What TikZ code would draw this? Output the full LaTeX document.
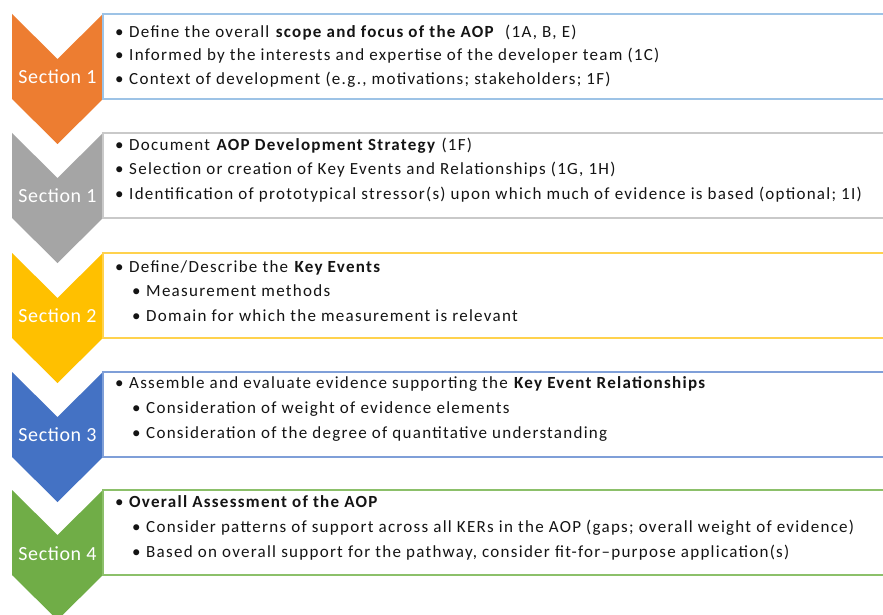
\documentclass[tikz,border=0pt]{standalone}
\usepackage{fontspec}
\setmainfont{Carlito}
\newfontfamily\bodyfont[LetterSpace=7.5]{Carlito}
\newfontfamily\secfont[LetterSpace=3]{Carlito}
\definecolor{cOrange}{HTML}{ED7D31}
\definecolor{cGray}{HTML}{A5A5A5}
\definecolor{cYellow}{HTML}{FFC000}
\definecolor{cBlue}{HTML}{4472C4}
\definecolor{cGreen}{HTML}{70AD47}
\definecolor{bOrange}{HTML}{9DC3E6}
\definecolor{bGray}{HTML}{C9C9C9}
\definecolor{bYellow}{HTML}{FFD24D}
\definecolor{bBlue}{HTML}{7F9FD8}
\definecolor{bGreen}{HTML}{8CC06A}
\definecolor{txt}{HTML}{141414}
\tikzset{
  secbox/.style={fill=white, line width=1.6pt},
  seclabel/.style={text=white, font=\secfont\fontsize{20}{24}\selectfont, inner sep=0pt},
  line/.style={anchor=mid west, inner sep=0pt, text=txt, font=\bodyfont\fontsize{17}{20}\selectfont},
}
\newcommand{\bl}{\makebox[14pt][l]{•}}
\newcommand{\chev}[3]{%
  \fill[#2] (12,#1) -- (57.5,#1+45) -- (103,#1) -- (103,#1+85) -- (57.5,#1+130) -- (12,#1+85) -- cycle;
  \draw[secbox, draw=#3] (103,#1) rectangle (895,#1+85);
}
\begin{document}
\begin{tikzpicture}[x=1pt,y=-1pt]
\useasboundingbox (0,0) rectangle (883,615);
\clip (0,0) rectangle (883,615);
\fill[white] (0,0) rectangle (883,615);
\chev{14}{cOrange}{bOrange}
\chev{133}{cGray}{bGray}
\chev{253}{cYellow}{bYellow}
\chev{372}{cBlue}{bBlue}
\chev{490}{cGreen}{bGreen}
\node[seclabel] (s1) at (57.5,77) {Section 1};
\node[seclabel] (s2) at (57.5,196) {Section 1};
\node[seclabel] (s3) at (57.5,316) {Section 2};
\node[seclabel] (s4) at (57.5,435) {Section 3};
\node[seclabel] (s5) at (57.5,554) {Section 4};
% box 1
\node[line] (a1) at (115,35) {\bl Define the overall \textbf{scope and focus of the AOP}\ \ (1A, B, E)};
\node[line] (a2) at (115,58) {\bl Informed by the interests and expertise of the developer team (1C)};
\node[line] (a3) at (115,82) {\bl Context of development (e.g., motivations; stakeholders; 1F)};
% box 2
\node[line] (b1) at (115,148) {\bl Document \textbf{AOP Development Strategy} (1F)};
\node[line] (b2) at (115,172) {\bl Selection or creation of Key Events and Relationships (1G, 1H)};
\node[line] (b3) at (115,197) {\bl Identification of prototypical stressor(s) upon which much of evidence is based (optional; 1I)};
% box 3
\node[line] (c1) at (115,270) {\bl Define/Describe the \textbf{Key Events}};
\node[line] (c2) at (132,294) {\bl Measurement methods};
\node[line] (c3) at (132,319) {\bl Domain for which the measurement is relevant};
% box 4
\node[line] (d1) at (115,386) {\bl Assemble and evaluate evidence supporting the \textbf{Key Event Relationships}};
\node[line] (d2) at (132,411) {\bl Consideration of weight of evidence elements};
\node[line] (d3) at (132,436) {\bl Consideration of the degree of quantitative understanding};
% box 5
\node[line] (e1) at (115,505) {\bl \textbf{Overall Assessment of the AOP}};
\node[line] (e2) at (132,530) {\bl Consider patterns of support across all KERs in the AOP (gaps; overall weight of evidence)};
\node[line] (e3) at (132,555) {\bl Based on overall support for the pathway, consider fit-for–purpose application(s)};
\end{tikzpicture}
\end{document}
